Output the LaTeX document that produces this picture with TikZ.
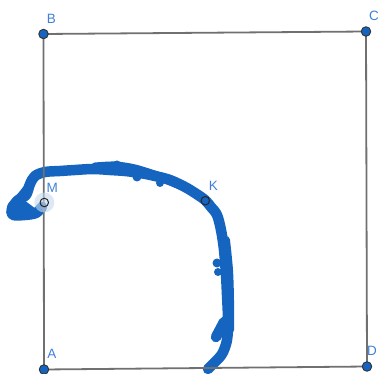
\documentclass[tikz,border=0pt]{standalone}
\usepackage{fontspec}
\setsansfont{Liberation Sans}
\usetikzlibrary{positioning}
\definecolor{ggblue}{HTML}{1565C0}
\definecolor{gglabel}{HTML}{3F80D6}
\definecolor{ggedge}{HTML}{707070}

\begin{document}
\begin{tikzpicture}[
  x=1pt, y=-1pt,
  font=\sffamily\fontsize{13.5}{16}\selectfont,
  label distance=5.5pt,
  edge/.style={ggedge, line width=1.8pt},
  ink/.style={ggblue, line width=10.5pt, line cap=round, line join=round},
  blot/.style={ggblue, fill=ggblue},
  corner/.style={circle, draw=black!80, fill=ggblue, line width=0.9pt, inner sep=0pt, minimum size=9.5pt},
  onpath/.style={circle, draw=black!85, line width=1pt, inner sep=0pt, minimum size=8.5pt},
  halo/.style={circle, fill=ggblue!25, fill opacity=0.6, inner sep=0pt, minimum size=20pt},
  lbl/.style={gglabel, inner sep=0pt, xshift=8pt}
]
\useasboundingbox (0,0) rectangle (383,374);

\coordinate (A) at (44,369.5);
\coordinate (B) at (43.5,34);
\coordinate (C) at (366,31.5);
\coordinate (D) at (367,366.5);
\coordinate (M) at (44.3,202.5);
\coordinate (K) at (205.3,200.7);

% freehand curve
\draw[ink] plot[smooth, tension=0.55] coordinates {
  (208,369) (214,363) (222,354) (227,340) (228,320) (227,295) (226,275)
  (224,250) (221,230) (217,215) (211,207) (205,200) (195,193) (185,187)
  (170,180) (155,176) (140,173) (125,171) (110,170) (93,169) (75,170)
  (60,171) (45,172) (35,176) (30,184) (26,195) (17,201) (12,210)
  (13,215) (25,215) (36,213) (42,207)};
\draw[ink, line width=9pt] plot[smooth] coordinates {(95,167) (115,166) (135,169) (160,177) (185,187)};
\draw[ink, line width=8pt] plot[smooth] coordinates {(226,240) (229,270) (230,300) (230,330)};
\draw[ink, line width=9pt] plot[smooth] coordinates {(28,188) (20,198) (12,206) (11,213)};
\draw[ink, line width=8pt] (16,210) -- (24,205) -- (32,211);
\draw[ink] (224,322) -- (216,337);
\fill[blot] (117,165) circle (4.5) (137,177) circle (4.5) (217,263) circle (4.5)
  (218,272) circle (4) (160,183) circle (4);

% square
\draw[edge] (A) -- (B) -- (C) -- (D) -- cycle;

\node[halo] (Mhalo) at (M) {};
\node[onpath, label={[lbl]above:M}] (pM) at (M) {};
\node[onpath, label={[lbl]above:K}] (pK) at (K) {};
\node[corner, label={[lbl]above:A}] (pA) at (A) {};
\node[corner, label={[lbl]above:B}] (pB) at (B) {};
\node[corner, label={[lbl]above:C}] (pC) at (C) {};
\node[corner, label={[lbl,xshift=-3pt]above:D}] (pD) at (D) {};
\end{tikzpicture}
\end{document}
